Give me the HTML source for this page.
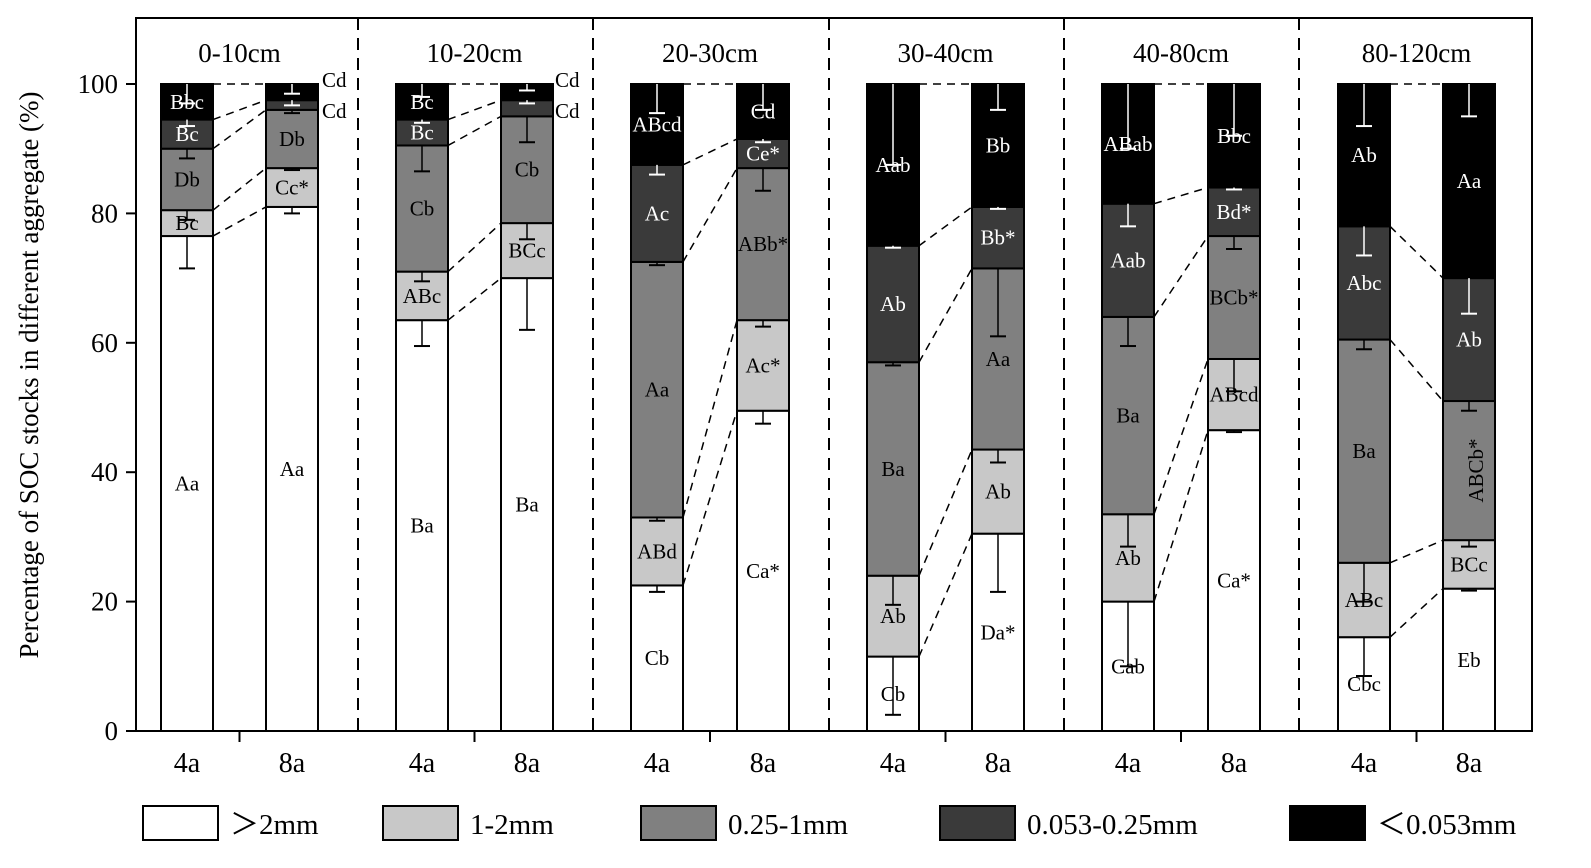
<!DOCTYPE html>
<html><head><meta charset="utf-8"><style>
html,body{margin:0;padding:0;background:#fff;}
svg{display:block;font-family:"Liberation Serif",serif;}
</style></head><body>
<svg id="s" width="1591" height="868" viewBox="0 0 1591 868" xmlns="http://www.w3.org/2000/svg"></svg>
<script>
const s=document.getElementById('s');let h='';
const Y=v=>731-v*6.47;
const cols=['#ffffff','#c8c8c8','#808080','#3a3a3a','#000000'];
const tcol=['#000','#000','#000','#fff','#fff'];
const starts4=[161,396,631,867,1102,1338], starts8=[266,501,737,972,1208,1443];
const W=52;
const data=[
 [[76.5,80.5,90,94.5,100],[81,87,96,97.5,100]],
 [[63.5,71,90.5,94.5,100],[70,78.5,95,97.5,100]],
 [[22.5,33,72.5,87.5,100],[49.5,63.5,87,91.5,100]],
 [[11.5,24,57,75,100],[30.5,43.5,71.5,81,100]],
 [[20,33.5,64,81.5,100],[46.5,57.5,76.5,84,100]],
 [[14.5,26,60.5,78,100],[22,29.5,51,70,100]]];
const labs=[
 [['Aa','Bc','Db','Bc','Bbc'],['Aa','Cc*','Db','',''] ],
 [['Ba','ABc','Cb','Bc','Bc'],['Ba','BCc','Cb','','']],
 [['Cb','ABd','Aa','Ac','ABcd'],['Ca*','Ac*','ABb*','Ce*','Cd']],
 [['Cb','Ab','Ba','Ab','Aab'],['Da*','Ab','Aa','Bb*','Bb']],
 [['Cab','Ab','Ba','Aab','ABab'],['Ca*','ABcd','BCb*','Bd*','Bbc']],
 [['Cbc','ABc','Ba','Abc','Ab'],['Eb','BCc','','Ab','Aa']]];
const errs=[
 [[5,1.5,1.5,1,3],[1,0.3,0.5,0.8,1.5]],
 [[4,1.5,4,0.5,2],[8,2.5,4,0.5,1]],
 [[1,0.5,0.5,1.5,4.5],[2,1,3.5,0.5,4]],
 [[9,4.5,0.5,0.3,12.5],[9,2,10.5,0.3,4]],
 [[10,5,4.5,3.5,10],[0.3,5,2,0.3,8]],
 [[6,6,1.5,4.5,6.5],[0.3,1,1.5,5.5,5]]];
const titles=['0-10cm','10-20cm','20-30cm','30-40cm','40-80cm','80-120cm'];
function bar(x,d,lb,er){
 let lo=0;
 for(let i=0;i<5;i++){const hi=d[i];
  h+=`<rect x="${x}" y="${Y(hi)}" width="${W}" height="${Y(lo)-Y(hi)}" fill="${cols[i]}" stroke="#000" stroke-width="2"/>`;
  lo=hi;}
 lo=0;
 for(let i=0;i<5;i++){const hi=d[i];const cx=x+W/2;const e=er[i];
  const lc=i>=3?'#fff':'#000';
  h+=`<line x1="${cx}" y1="${Y(hi)}" x2="${cx}" y2="${Y(hi-e)}" stroke="${lc}" stroke-width="1.5"/><line x1="${cx-8}" y1="${Y(hi-e)}" x2="${cx+8}" y2="${Y(hi-e)}" stroke="${lc}" stroke-width="2"/>`;
  if(lb[i]) h+=`<text x="${cx}" y="${(Y(lo)+Y(hi))/2+7}" font-size="21" fill="${tcol[i]}" text-anchor="middle">${lb[i]}</text>`;
  lo=hi;}
}
h+=`<rect x="136" y="18" width="1396" height="713" fill="none" stroke="#000" stroke-width="2"/>`;
[358,593,829,1064,1299].forEach(x=>h+=`<line x1="${x}" y1="18" x2="${x}" y2="731" stroke="#000" stroke-width="2" stroke-dasharray="12,8"/>`);
for(let p=0;p<6;p++){
 const a=starts4[p],b=starts8[p];
 bar(a,data[p][0],labs[p][0],errs[p][0]);
 bar(b,data[p][1],labs[p][1],errs[p][1]);
 for(let i=0;i<5;i++) h+=`<line x1="${a+W}" y1="${Y(data[p][0][i])}" x2="${b}" y2="${Y(data[p][1][i])}" stroke="#000" stroke-width="1.5" stroke-dasharray="8,6"/>`;
 h+=`<text x="${(a+b+W)/2}" y="62" font-size="27" text-anchor="middle">${titles[p]}</text>`;
 h+=`<text x="${a+W/2}" y="772" font-size="28" text-anchor="middle">4a</text><text x="${b+W/2}" y="772" font-size="28" text-anchor="middle">8a</text>`;
 const tx=(a+W+b)/2; h+=`<line x1="${tx}" y1="731" x2="${tx}" y2="742" stroke="#000" stroke-width="2"/>`;
}
h+=`<text x="322" y="87" font-size="21">Cd</text><text x="322" y="118" font-size="21">Cd</text><text x="555" y="87" font-size="21">Cd</text><text x="555" y="118" font-size="21">Cd</text>`;
h+=`<text transform="translate(1476,${(Y(29.5)+Y(51))/2}) rotate(-90)" font-size="21" fill="#000" text-anchor="middle" dy="7">ABCb*</text>`;
for(let v=0;v<=100;v+=20){h+=`<line x1="126" y1="${Y(v)}" x2="136" y2="${Y(v)}" stroke="#000" stroke-width="2"/><text x="118" y="${Y(v)+9}" font-size="27" text-anchor="end">${v}</text>`;}
h+=`<text transform="translate(38,375) rotate(-90)" font-size="27" text-anchor="middle">Percentage of SOC stocks in different aggregate (%)</text>`;
const lg=[[143,'＞2mm'],[383,'1-2mm'],[641,'0.25-1mm'],[940,'0.053-0.25mm'],[1290,'＜0.053mm']];
lg.forEach((l,i)=>{h+=`<rect x="${l[0]}" y="806" width="75" height="34" fill="${cols[i]}" stroke="#000" stroke-width="2"/><text x="${l[0]+87}" y="834" font-size="29">${l[1]}</text>`;});
s.innerHTML=h;
</script>
</body></html>
